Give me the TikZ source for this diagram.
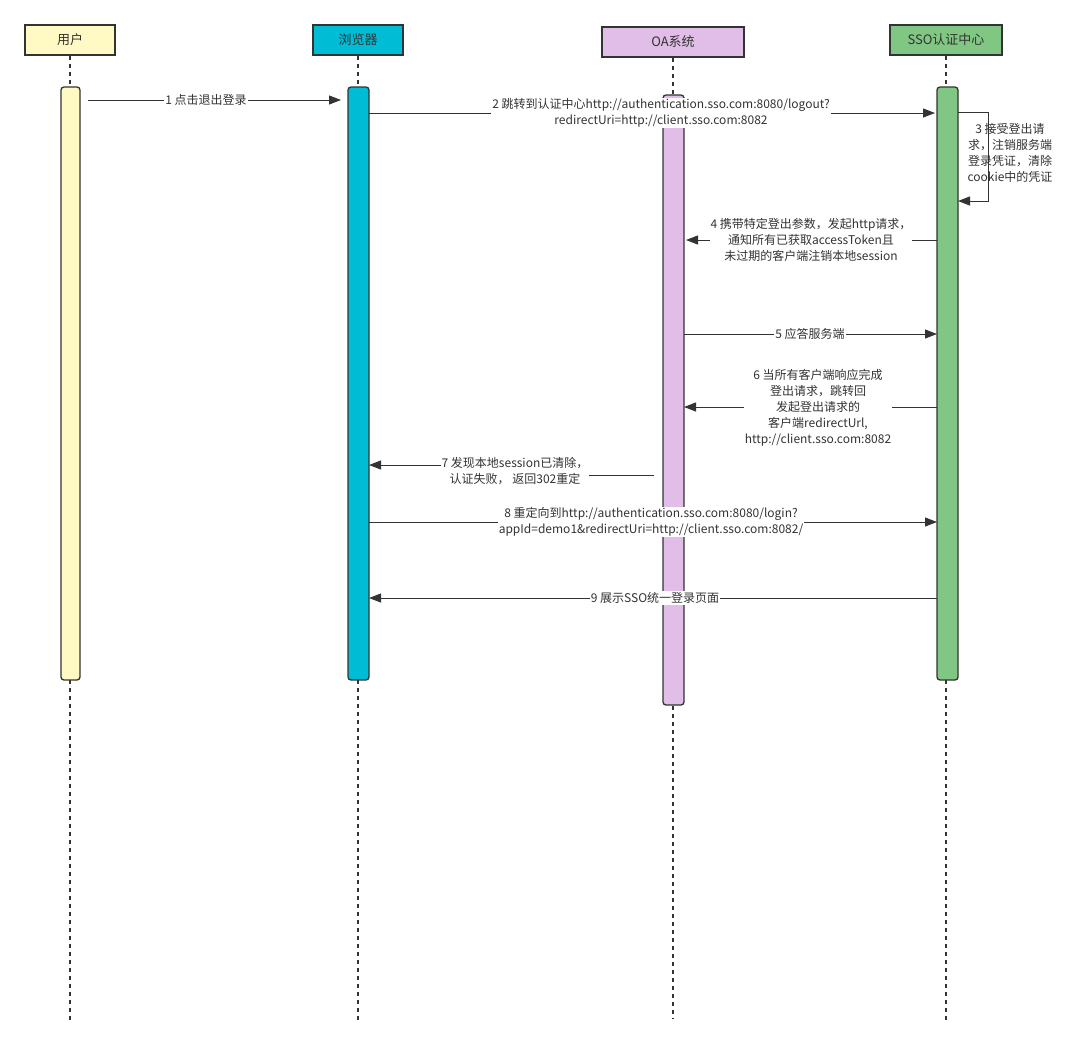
\documentclass[tikz,border=0pt]{standalone}
\usepackage{fontspec}
\setmainfont{Noto Sans CJK SC}
\usetikzlibrary{arrows.meta}
\definecolor{lc}{HTML}{333333}
\definecolor{cyellow}{HTML}{FFF9C4}
\definecolor{ccyan}{HTML}{00BCD4}
\definecolor{cpurple}{HTML}{E1BEE7}
\definecolor{cgreen}{HTML}{81C784}
\begin{document}
\begin{tikzpicture}[x=1pt,y=-1pt,
 head/.style={draw=lc, line width=1.5pt, minimum height=30pt, font=\fontsize{13}{15}\selectfont, inner sep=0pt, text=lc},
 act/.style={draw=lc, line width=1.3pt, rounded corners=3pt, inner sep=0pt},
 life/.style={draw=lc, line width=1.5pt, dash pattern=on 4pt off 4pt},
 msg/.style={draw=lc, line width=1pt, -{Triangle[length=12pt,width=9pt]}},
 lbl/.style={fill=white, align=center, font=\fontsize{12}{16}\selectfont, inner sep=1pt, text=lc},
 nlbl/.style={align=center, font=\fontsize{12}{16}\selectfont, inner sep=0pt, text=lc}
]
\useasboundingbox[fill=white] (0,0) rectangle (1084,1050);

% heads
\node[head, fill=cyellow, minimum width=90pt] (hU) at (70,40) {用户};
\node[head, fill=ccyan, minimum width=90pt] (hB) at (358,40) {浏览器};
\node[head, fill=cpurple, minimum width=142pt] (hO) at (673,42) {OA系统};
\node[head, fill=cgreen, minimum width=112pt] (hS) at (946,40) {SSO认证中心};

% lifeline ends
\coordinate (eU) at (70,1023);
\coordinate (eB) at (358,1023);
\coordinate (eO) at (673,1018);
\coordinate (eS) at (946,1023);
\draw[life] (hU.south) -- (eU);
\draw[life] (hB.south) -- (eB);
\draw[life] (hO.south) -- (eO);
\draw[life] (hS.south) -- (eS);

% activations
\node[act, fill=cyellow, minimum width=19pt, minimum height=593pt] (aU) at (70.5,383.5) {};
\node[act, fill=ccyan, minimum width=21pt, minimum height=593pt] (aB) at (358.5,383.5) {};
\node[act, fill=cpurple, minimum width=21pt, minimum height=610pt] (aO) at (673.5,400) {};
\node[act, fill=cgreen, minimum width=21pt, minimum height=593pt] (aS) at (947.5,383.5) {};

% message end points
\coordinate (m1a) at (88,100);   \coordinate (m1b) at (341,100);
\coordinate (m2a) at (369,113);  \coordinate (m2b) at (935,113);
\coordinate (m3a) at (958,112);  \coordinate (m3c) at (988,112);
\coordinate (m3d) at (988,201);  \coordinate (m3b) at (958,201);
\coordinate (m4a) at (937,240);  \coordinate (m4b) at (686,240);
\coordinate (m5a) at (684,334);  \coordinate (m5b) at (937,334);
\coordinate (m6a) at (937,407);  \coordinate (m6b) at (684,407);
\coordinate (m7a) at (654,475);  \coordinate (m7c) at (515,475);
\coordinate (m7d) at (515,465);  \coordinate (m7b) at (369,465);
\coordinate (m8a) at (369,522);  \coordinate (m8b) at (937,522);
\coordinate (m9a) at (937,598);  \coordinate (m9b) at (369,598);

% messages
\draw[msg] (m1a) -- (m1b);
\node[lbl] (l1) at (206,100) {1 点击退出登录};

\draw[msg] (m2a) -- (m2b);
\node[lbl] (l2) at (661,113) {2 跳转到认证中心http://authentication.sso.com:8080/logout?\\redirectUri=http://client.sso.com:8082};

\draw[msg] (m3a) -- (m3c) -- (m3d) -- (m3b);
\node[nlbl] (l3) at (1010,153) {3 接受登出请\\求，注销服务端\\登录凭证，清除\\cookie中的凭证};

\draw[msg] (m4a) -- (m4b);
\node[lbl] (l4) at (811,240) {4 携带特定登出参数，发起http请求，\\通知所有已获取accessToken且\\未过期的客户端注销本地session};

\draw[msg] (m5a) -- (m5b);
\node[lbl] (l5) at (810,334) {5 应答服务端};

\draw[msg] (m6a) -- (m6b);
\node[lbl] (l6) at (818,408) {6 当所有客户端响应完成\\登出请求，跳转回\\发起登出请求的\\客户端redirectUrl,\\http://client.sso.com:8082};

\draw[msg] (m7a) -- (m7c) -- (m7d) -- (m7b);
\node[lbl] (l7) at (515,471) {7 发现本地session已清除，\\认证失败， 返回302重定};

\draw[msg] (m8a) -- (m8b);
\node[lbl] (l8) at (651,522) {8 重定向到http://authentication.sso.com:8080/login?\\appId=demo1\&redirectUri=http://client.sso.com:8082/};

\draw[msg] (m9a) -- (m9b);
\node[lbl] (l9) at (655,598) {9 展示SSO统一登录页面};
\end{tikzpicture}
\end{document}
